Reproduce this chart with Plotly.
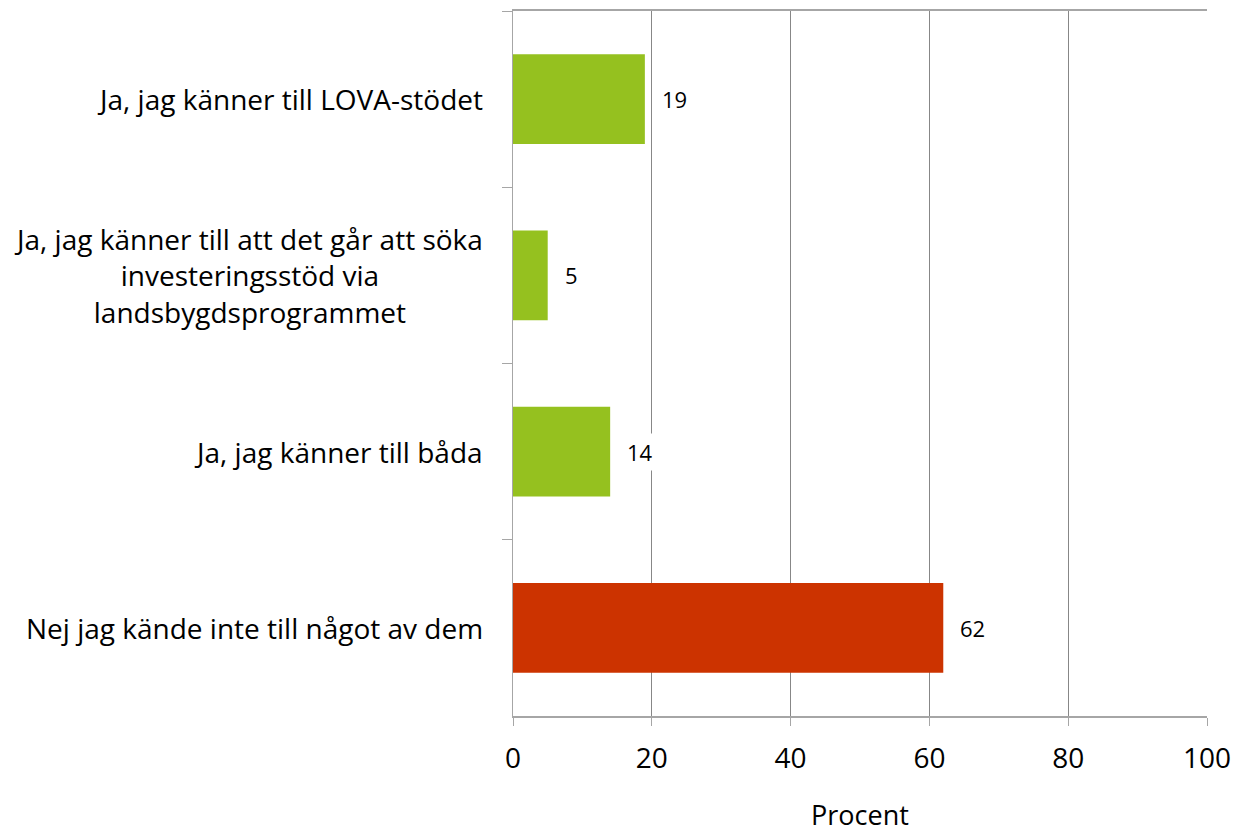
import plotly.graph_objects as go

categories = [
    "Ja, jag känner till LOVA-stödet",
    "Ja, jag känner till att det går att söka<br>investeringsstöd via<br>landsbygdsprogrammet",
    "Ja, jag känner till båda",
    "Nej jag kände inte till något av dem",
]
values = [19, 5, 14, 62]
bar_colors = ["#95C11F", "#95C11F", "#95C11F", "#CC3300"]
x_ticks = [0, 20, 40, 60, 80, 100]
x_title = "Procent"

FONT = "Open Sans"

fig = go.Figure()
fig.add_trace(go.Bar(
    y=categories,
    x=values,
    orientation="h",
    marker=dict(color=bar_colors, line=dict(width=0)),
    width=0.51,
    hoverinfo="skip",
))

annotations = []
for c, v in zip(categories, values):
    annotations.append(dict(
        x=v, y=c, xref="x", yref="y", text=str(v), showarrow=False,
        xanchor="left", xshift=13, bgcolor="white", borderpad=3,
        font=dict(family=FONT, size=22, color="black"),
    ))
    annotations.append(dict(
        x=0, y=c, xref="paper", yref="y", text=c, showarrow=False,
        xanchor="right", xshift=-28, align="center",
        font=dict(family=FONT, size=28, color="black"),
    ))

fig.update_layout(
    width=1236, height=833,
    margin=dict(l=513, r=29, t=11, b=117, autoexpand=False),
    paper_bgcolor="white", plot_bgcolor="white",
    showlegend=False,
    font=dict(family=FONT, color="black"),
    annotations=annotations,
    xaxis=dict(
        range=[0, 100], tickvals=x_ticks, ticktext=[str(t) for t in x_ticks],
        showgrid=True, gridcolor="#878787", gridwidth=1,
        zeroline=False,
        showline=True, linecolor="#A6A6A6", linewidth=2, mirror=True,
        ticks="outside", ticklen=8, tickcolor="#A6A6A6", tickwidth=1,
        ticklabelstandoff=8,
        tickfont=dict(family=FONT, size=28, color="black"),
        title=dict(text=x_title, font=dict(family=FONT, size=27, color="black"), standoff=37),
        automargin=True,
        fixedrange=True,
    ),
    yaxis=dict(
        categoryorder="array", categoryarray=categories, autorange="reversed",
        showticklabels=False,
        showgrid=False, zeroline=False,
        showline=True, linecolor="#A6A6A6", linewidth=1,
        ticks="outside", ticklen=10, tickcolor="#A6A6A6", tickson="boundaries",
        automargin=False,
        fixedrange=True,
    ),
)

fig.write_html(
    "out.html",
    config={"displayModeBar": False, "staticPlot": True},
    post_script="document.body.style.margin='0';document.body.style.overflow='hidden';",
)
